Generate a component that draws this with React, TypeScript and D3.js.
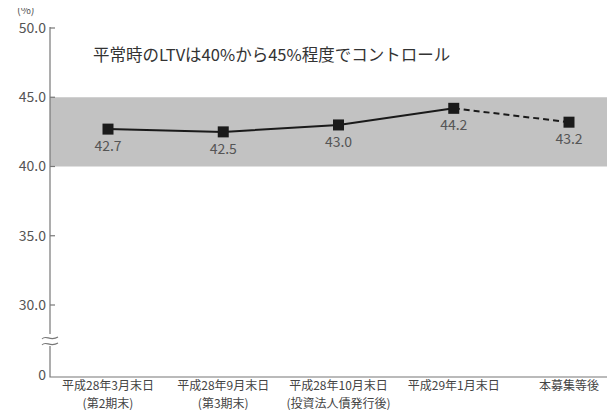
import React, { useRef, useEffect } from "react";
import * as d3 from "d3";

const categories = ["平成28年3月末日", "平成28年9月末日", "平成28年10月末日", "平成29年1月末日", "本募集等後"];
const subLabels = ["(第2期末)", "(第3期末)", "(投資法人債発行後)", "", ""];
const ltvValues = [42.7, 42.5, 43.0, 44.2, 43.2];
const yTicks = [30, 35, 40, 45, 50];
const bandRange = [40, 45];

const FONT = "'Noto Sans CJK JP', 'Noto Sans', sans-serif";

function LtvChart() {
  const svgRef = useRef<SVGSVGElement>(null);

  useEffect(() => {
    const svg = d3.select(svgRef.current);
    svg.selectAll("*").remove();

    const axisX = 50, right = 612, baseY = 377;
    const x = d3.scalePoint<string>().domain(categories).range([108, 569]);
    const y = d3.scaleLinear().domain([30, 50]).range([305, 28]);
    const grey = "#555";

    // band 40-45
    svg.append("rect")
      .attr("x", axisX).attr("width", right - axisX)
      .attr("y", y(bandRange[1])).attr("height", y(bandRange[0]) - y(bandRange[1]))
      .attr("fill", "#c2c2c2");

    // axes
    svg.append("path")
      .attr("d", `M${axisX},${y(50) - 1}V${baseY}H${right}`)
      .attr("fill", "none").attr("stroke", "#777").attr("stroke-width", 1.2);

    const tick = svg.selectAll(".tk").data(yTicks).enter().append("g")
      .attr("transform", (d) => `translate(0,${y(d)})`);
    tick.append("line").attr("x1", axisX).attr("x2", axisX + 5)
      .attr("stroke", "#777").attr("stroke-width", 1.2);
    tick.append("text").text((d) => d.toFixed(1))
      .attr("x", axisX - 4).attr("dy", "0.35em").attr("text-anchor", "end")
      .attr("font-size", 14).attr("fill", grey).attr("font-family", FONT);

    svg.append("text").text("0")
      .attr("x", axisX - 4).attr("y", baseY - 2).attr("dy", "0.35em").attr("text-anchor", "end")
      .attr("font-size", 14).attr("fill", grey).attr("font-family", FONT);

    svg.append("text").text("(%)")
      .attr("x", 17).attr("y", 14)
      .attr("font-size", 11).attr("fill", grey).attr("font-family", FONT);

    // axis break
    const bk = svg.append("g").attr("transform", `translate(${axisX},341)`);
    bk.append("rect").attr("x", -9).attr("y", -7).attr("width", 18).attr("height", 12).attr("fill", "#fff");
    [-3, 3].forEach((o) => {
      bk.append("path")
        .attr("d", `M-8,${o + 1}C-4,${o - 4} 0,${o + 4} 8,${o - 1}`)
        .attr("fill", "none").attr("stroke", "#777").attr("stroke-width", 1.1);
    });

    svg.append("text").text("平常時のLTVは40%から45%程度でコントロール")
      .attr("x", 93).attr("y", 61)
      .attr("font-size", 16.5).attr("fill", "#333").attr("font-family", FONT);

    // line
    const pts = ltvValues.map((v, i) => [x(categories[i])!, y(v)] as [number, number]);
    const line = d3.line();
    svg.append("path").attr("d", line(pts.slice(0, 4)))
      .attr("fill", "none").attr("stroke", "#1a1a1a").attr("stroke-width", 2);
    svg.append("path").attr("d", line(pts.slice(3)))
      .attr("fill", "none").attr("stroke", "#1a1a1a").attr("stroke-width", 2)
      .attr("stroke-dasharray", "6,4");

    svg.selectAll(".mk").data(pts).enter().append("rect")
      .attr("x", (d) => d[0] - 5.5).attr("y", (d) => d[1] - 5.5)
      .attr("width", 11).attr("height", 11).attr("fill", "#1a1a1a");

    svg.selectAll(".vl").data(ltvValues).enter().append("text")
      .text((d) => d.toFixed(1))
      .attr("x", (d, i) => x(categories[i])!)
      .attr("y", (d) => y(d) + 22)
      .attr("text-anchor", "middle")
      .attr("font-size", 14).attr("fill", grey).attr("font-family", FONT);

    // x labels
    const xl = svg.selectAll(".xl").data(categories).enter().append("g")
      .attr("transform", (d) => `translate(${x(d)},0)`);
    xl.append("text").text((d) => d)
      .attr("y", 390).attr("text-anchor", "middle")
      .attr("font-size", 12).attr("fill", "#444").attr("font-family", FONT);
    xl.append("text").text((d, i) => subLabels[i])
      .attr("y", 407.5).attr("text-anchor", "middle")
      .attr("font-size", 12).attr("fill", "#444").attr("font-family", FONT);
  }, []);

  return <svg ref={svgRef} width={615} height={418} style={{ display: "block" }} />;
}

export default function App() {
  return (
    <div style={{ margin: -8 }}>
      <LtvChart />
    </div>
  );
}
